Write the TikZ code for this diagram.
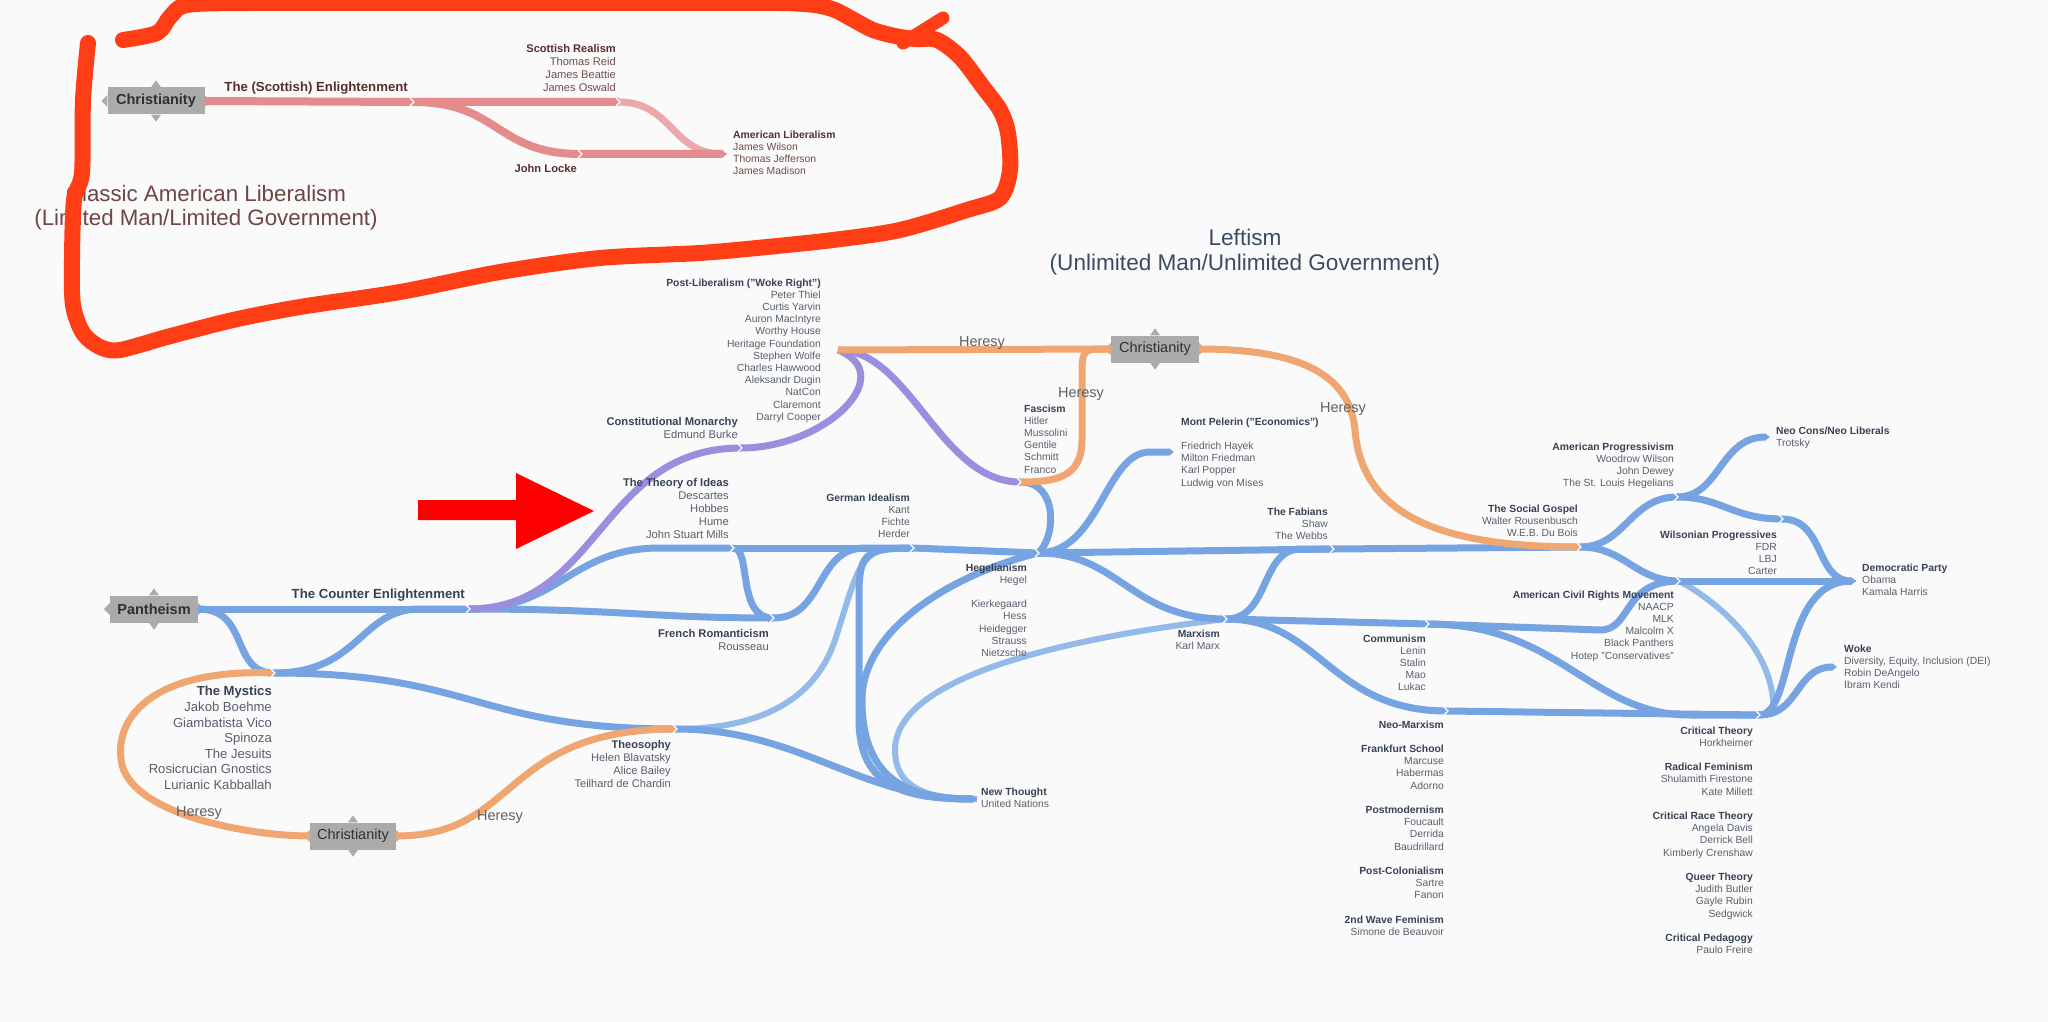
\documentclass[tikz,border=0pt]{standalone}
\usepackage{fontspec}
\setmainfont{Liberation Sans}
\usetikzlibrary{arrows.meta, positioning}

\definecolor{linkblue}{RGB}{118,163,226}
\definecolor{linkbluel}{RGB}{148,186,234}
\definecolor{linkpink}{RGB}{228,140,140}
\definecolor{linkpinkl}{RGB}{236,168,168}
\definecolor{linkorange}{RGB}{240,166,112}
\definecolor{linkpurple}{RGB}{154,142,222}
\definecolor{boxgray}{RGB}{171,171,171}
\definecolor{boxtext}{RGB}{48,48,48}
\definecolor{headc}{RGB}{55,66,84}
\definecolor{namec}{RGB}{88,95,108}
\definecolor{brownhead}{RGB}{90,45,45}
\definecolor{brownname}{RGB}{115,75,75}
\definecolor{titlebrown}{RGB}{110,70,70}
\definecolor{titleblue}{RGB}{60,75,100}
\definecolor{heresyc}{RGB}{96,96,96}
\definecolor{markred}{RGB}{255,62,22}
\definecolor{pagebg}{RGB}{250,250,250}

\newcommand{\hd}[1]{\textbf{\color{headc}#1}}
\newcommand{\hdbr}[1]{\textbf{\color{brownhead}#1}}

\begin{document}
\begin{tikzpicture}[x=1pt, y=-1pt,
  srcbox/.style = {fill=boxgray, text=boxtext, minimum height=27pt, inner sep=0pt,
    font=\fontsize{14.5}{16}\selectfont},
  flow/.style = {draw=linkblue, line width=7pt},
  flowl/.style = {draw=linkbluel, line width=6pt},
  pinkflow/.style = {draw=linkpink, line width=8pt},
  pinkflowl/.style = {draw=linkpinkl, line width=7pt},
  oflow/.style = {draw=linkorange, line width=7pt},
  pflow/.style = {draw=linkpurple, line width=7pt},
  bandend/.style = {-{Triangle[length=5pt, width=7pt]}},
  lblr/.style = {anchor=north east, align=right, inner sep=0pt, text=namec,
    font=\fontsize{10.35}{12.2}\selectfont},
  lbll/.style = {anchor=north west, align=left, inner sep=0pt, text=namec,
    font=\fontsize{10.35}{12.2}\selectfont},
  heresy/.style = {inner sep=0pt, text=heresyc, font=\fontsize{14.5}{16}\selectfont},
  bigtitle/.style = {anchor=north, align=center, inner sep=0pt}
]
\fill[pagebg] (0,0) rectangle (2048,1022);
\useasboundingbox (0,0) rectangle (2048,1022);

% titles
\node[bigtitle, text=titlebrown, font=\fontsize{22.3}{24}\selectfont] (tClassic) at (206,185)
  {Classic American Liberalism\\(Limited Man/Limited Government)};
\node[bigtitle, text=titleblue, font=\fontsize{22.6}{25}\selectfont] (tLeft) at (1245,229)
  {Leftism\\(Unlimited Man/Unlimited Government)};

% source boxes
\node[srcbox, minimum width=97pt, font=\bfseries\fontsize{14.5}{16}\selectfont] (chA) at (156,101) {Christianity};
\node[srcbox, minimum width=88pt, font=\bfseries\fontsize{14.5}{16}\selectfont] (pan) at (154,609) {Pantheism};
\node[srcbox, minimum width=86pt] (chB) at (353,836) {Christianity};
\node[srcbox, minimum width=88pt] (chC) at (1155,349) {Christianity};
\foreach \b in {chA,pan,chB,chC} {
  \fill[boxgray] (\b.north) ++(-5,0) -- ++(5,-7) -- ++(5,7) -- cycle;
  \fill[boxgray] (\b.south) ++(-5,0) -- ++(5,7) -- ++(5,-7) -- cycle;
  \fill[boxgray] (\b.west) ++(0,-6) -- ++(-6,6) -- ++(6,6) -- cycle;
  \fill[boxgray] (\b.east) ++(0,-6) -- ++(6,6) -- ++(-6,6) -- cycle;
}

% junctions
\coordinate (scotEnl) at (413,102);
\coordinate (scotReal) at (619,102);
\coordinate (locke) at (581,154);
\coordinate (amLib) at (727,154);
\coordinate (cEnl) at (469,609);
\coordinate (mystic) at (274,673);
\coordinate (theos) at (676,729);
\coordinate (ideas) at (733,548);
\coordinate (frRom) at (773,618);
\coordinate (gerId) at (913,548);
\coordinate (consMon) at (741,448);
\coordinate (postLib) at (838,350);
\coordinate (fasc) at (1020,482);
\coordinate (hegel) at (1038,553);
\coordinate (newTh) at (977,799);
\coordinate (montP) at (1174,452);
\coordinate (fab) at (1333,549);
\coordinate (marx) at (1226,619);
\coordinate (comm) at (1428,624);
\coordinate (neoM) at (1447,711);
\coordinate (socG) at (1580,547);
\coordinate (amProg) at (1677,497);
\coordinate (acrm) at (1679,581);
\coordinate (wilson) at (1782,519);
\coordinate (neoCon) at (1770,437);
\coordinate (demP) at (1856,581);
\coordinate (critT) at (1759,715);
\coordinate (woke) at (1837,667);

% blue flows
\draw[flowl] (theos) .. controls (760,729) and (815,700) .. (835,640) .. controls (855,580) and (858,548) .. (895,548) -- (gerId);
\draw[flowl] (marx) .. controls (1050,640) and (895,680) .. (895,750) .. controls (895,792) and (935,799) .. (newTh);
\draw[flowl] (acrm) .. controls (1715,600) and (1778,650) .. ([xshift=14pt]critT);
\draw[flow] (pan.east) -- (cEnl);
\draw[flow] (pan.east) .. controls (250,609) and (230,673) .. (mystic);
\draw[flow] (mystic) .. controls (360,673) and (360,609) .. (420,609) -- (cEnl);
\draw[flow] (mystic) .. controls (475,673) and (475,729) .. (theos);
\draw[flow] (cEnl) .. controls (560,609) and (570,548) .. (660,548) -- (ideas);
\draw[flow] (cEnl) .. controls (620,609) and (650,618) .. (frRom);
\draw[flow] (ideas) -- (gerId);
\draw[flow] (ideas) .. controls (752,548) and (736,618) .. (frRom);
\draw[flow] (frRom) .. controls (825,618) and (815,548) .. (865,548) -- (gerId);
\draw[flow] (gerId) -- (hegel);
\draw[flow, bandend] (theos) .. controls (800,729) and (860,799) .. (newTh);
\draw[flow, bandend] (gerId) .. controls (862,548) and (859,555) .. (859,600) -- (859,720) .. controls (859,790) and (910,799) .. (newTh);
\draw[flow, bandend] (hegel) .. controls (950,575) and (862,630) .. (862,700) .. controls (862,785) and (915,799) .. (newTh);
\draw[flow] (fasc) .. controls (1060,482) and (1055,540) .. (hegel);
\draw[flow, bandend] (hegel) .. controls (1100,553) and (1105,452) .. (1150,452) -- (montP);
\draw[flow] (hegel) -- (fab) -- (socG);
\draw[flow] (hegel) .. controls (1120,553) and (1130,619) .. (marx);
\draw[flow] (marx) .. controls (1270,619) and (1260,550) .. (1300,549) -- (fab);
\draw[flow] (marx) -- (comm);
\draw[flow] (marx) .. controls (1320,619) and (1330,711) .. (neoM);
\draw[flow] (comm) -- (1600,630) .. controls (1632,630) and (1622,581) .. (acrm);
\draw[flow] (comm) .. controls (1560,624) and (1590,715) .. (1690,715) -- (critT);
\draw[flow] (neoM) -- (critT);
\draw[flow] (socG) .. controls (1625,547) and (1630,497) .. (amProg);
\draw[flow] (socG) .. controls (1625,547) and (1635,581) .. (acrm);
\draw[flow, bandend] (amProg) .. controls (1720,497) and (1720,437) .. (neoCon);
\draw[flow] (amProg) .. controls (1722,497) and (1732,519) .. (wilson);
\draw[flow, bandend] (wilson) .. controls (1825,519) and (1815,581) .. (demP);
\draw[flow, bandend] (acrm) -- (demP);
\draw[flow, bandend] (critT) .. controls (1795,715) and (1780,581) .. (demP);
\draw[flow, bandend] (critT) .. controls (1800,715) and (1795,667) .. (woke);

% purple flows
\draw[pflow] (cEnl) .. controls (600,609) and (600,448) .. (consMon);
\draw[pflow] (consMon) .. controls (825,448) and (900,375) .. (postLib);
\draw[pflow] (postLib) .. controls (910,350) and (940,482) .. (fasc);

% orange flows
\draw[oflow] (chC.west) -- (postLib);
\draw[oflow] (chC.west) -- (1098,349) .. controls (1083,349) and (1082,355) .. (1082,372) -- (1082,440) .. controls (1082,478) and (1055,482) .. (fasc);
\draw[oflow] (chC.east) .. controls (1310,349) and (1350,380) .. (1355,430) .. controls (1362,520) and (1450,547) .. (socG);
\draw[oflow] (mystic) .. controls (150,668) and (112,720) .. (122,765) .. controls (135,815) and (250,836) .. (chB.west);
\draw[oflow] (chB.east) .. controls (520,836) and (500,729) .. (theos);

% pink flows
\draw[pinkflow] (chA.east) -- (scotEnl) -- (scotReal);
\draw[pinkflowl, bandend] (scotReal) .. controls (672,102) and (672,154) .. (amLib);
\draw[pinkflow, bandend] (scotEnl) .. controls (500,102) and (495,154) .. (locke) -- (amLib);

% white chevrons at the joins
\foreach \c in {scotEnl,scotReal,locke,cEnl,mystic,theos,ideas,frRom,gerId,consMon,fasc,hegel,fab,marx,comm,neoM,socG,amProg,acrm,wilson,critT}
  \draw[white, line width=1.2pt] (\c) ++(-3,-4) -- ++(4,4) -- ++(-4,4);

% labels, classic part
\node[lblr, text=brownhead, font=\bfseries\fontsize{13.2}{15}\selectfont] (lScotEnl) at (408,81.5) {The (Scottish) Enlightenment};
\node[lblr, text=brownname, font=\fontsize{11.1}{13}\selectfont] (lScotReal) at (616,44)
  {\hdbr{Scottish Realism}\\Thomas Reid\\James Beattie\\James Oswald};
\node[lblr, text=brownhead, font=\bfseries\fontsize{11.2}{13}\selectfont] (lLocke) at (577,164) {John Locke};
\node[lbll, text=brownname, font=\fontsize{10.4}{12.3}\selectfont] (lAmLib) at (733,130.3)
  {\hdbr{American Liberalism}\\James Wilson\\Thomas Jefferson\\James Madison};

% labels, left part
\node[lblr, text=headc, font=\bfseries\fontsize{13.2}{15}\selectfont] (lCounter) at (465,588.3) {The Counter Enlightenment};
\node[lblr, font=\fontsize{13.1}{15.5}\selectfont] (lMystic) at (272,686.3)
  {\hd{The Mystics}\\Jakob Boehme\\Giambatista Vico\\Spinoza\\The Jesuits\\Rosicrucian Gnostics\\Lurianic Kabballah};
\node[lblr, font=\fontsize{11.1}{13}\selectfont] (lTheos) at (671,740)
  {\hd{Theosophy}\\Helen Blavatsky\\Alice Bailey\\Teilhard de Chardin};
\node[lblr, font=\fontsize{11.2}{13}\selectfont] (lFrRom) at (769,628.7) {\hd{French Romanticism}\\Rousseau};
\node[lblr, font=\fontsize{11.2}{13}\selectfont] (lIdeas) at (729,478)
  {\hd{The Theory of Ideas}\\Descartes\\Hobbes\\Hume\\John Stuart Mills};
\node[lblr, font=\fontsize{11.2}{13}\selectfont] (lConsMon) at (738,417) {\hd{Constitutional Monarchy}\\Edmund Burke};
\node[lblr] (lPostLib) at (821,278.3)
  {\hd{Post-Liberalism ("Woke Right")}\\Peter Thiel\\Curtis Yarvin\\Auron MacIntyre\\Worthy House\\Heritage Foundation\\Stephen Wolfe\\Charles Hawwood\\Aleksandr Dugin\\NatCon\\Claremont\\Darryl Cooper};
\node[lblr] (lGerId) at (910,493.3) {\hd{German Idealism}\\Kant\\Fichte\\Herder};

% labels, middle part
\node[lbll] (lFasc) at (1024,404.3) {\hd{Fascism}\\Hitler\\Mussolini\\Gentile\\Schmitt\\Franco};
\node[lblr] (lHegel) at (1027,563.3)
  {\hd{Hegelianism}\\Hegel\\[12.2pt]Kierkegaard\\Hess\\Heidegger\\Strauss\\Nietzsche};
\node[lbll] (lMontP) at (1181,417.3)
  {\hd{Mont Pelerin ("Economics")}\\[12.2pt]Friedrich Hayek\\Milton Friedman\\Karl Popper\\Ludwig von Mises};
\node[lblr] (lFab) at (1328,507.3) {\hd{The Fabians}\\Shaw\\The Webbs};
\node[lblr] (lMarx) at (1220,629.3) {\hd{Marxism}\\Karl Marx};
\node[lblr] (lComm) at (1426,634.3) {\hd{Communism}\\Lenin\\Stalin\\Mao\\Lukac};
\node[lblr] (lNeoM) at (1444,720.3)
  {\hd{Neo-Marxism}\\[12.2pt]\hd{Frankfurt School}\\Marcuse\\Habermas\\Adorno\\[12.2pt]\hd{Postmodernism}\\Foucault\\Derrida\\Baudrillard\\[12.2pt]\hd{Post-Colonialism}\\Sartre\\Fanon\\[12.2pt]\hd{2nd Wave Feminism}\\Simone de Beauvoir};
\node[lbll] (lNewTh) at (981,787.3) {\hd{New Thought}\\United Nations};

% labels, right part
\node[lblr] (lSocG) at (1578,504.3) {\hd{The Social Gospel}\\Walter Rousenbusch\\W.E.B. Du Bois};
\node[lblr] (lAmProg) at (1674,442.3)
  {\hd{American Progressivism}\\Woodrow Wilson\\John Dewey\\The St. Louis Hegelians};
\node[lblr] (lWilson) at (1777,530.3) {\hd{Wilsonian Progressives}\\FDR\\LBJ\\Carter};
\node[lblr] (lAcrm) at (1674,590.3)
  {\hd{American Civil Rights Movement}\\NAACP\\MLK\\Malcolm X\\Black Panthers\\Hotep "Conservatives"};
\node[lbll] (lNeoCon) at (1776,426.3) {\hd{Neo Cons/Neo Liberals}\\Trotsky};
\node[lbll] (lDemP) at (1862,563.3) {\hd{Democratic Party}\\Obama\\Kamala Harris};
\node[lbll] (lWoke) at (1844,644.3)
  {\hd{Woke}\\Diversity, Equity, Inclusion (DEI)\\Robin DeAngelo\\Ibram Kendi};
\node[lblr] (lCritT) at (1753,726.3)
  {\hd{Critical Theory}\\Horkheimer\\[12.2pt]\hd{Radical Feminism}\\Shulamith Firestone\\Kate Millett\\[12.2pt]\hd{Critical Race Theory}\\Angela Davis\\Derrick Bell\\Kimberly Crenshaw\\[12.2pt]\hd{Queer Theory}\\Judith Butler\\Gayle Rubin\\Sedgwick\\[12.2pt]\hd{Critical Pedagogy}\\Paulo Freire};

% heresy labels
\node[heresy] (hMystic) at (199,813) {Heresy};
\node[heresy] (hTheos) at (500,817) {Heresy};
\node[heresy] (hPost) at (982,343) {Heresy};
\node[heresy] (hFasc) at (1081,394) {Heresy};
\node[heresy] (hSoc) at (1343,409) {Heresy};

% hand drawn marks
\draw[markred, line width=16pt, line cap=round, line join=round] plot[smooth, tension=0.5] coordinates {
  (88,43) (83,100) (82,173) (74,200) (72,260) (73,305) (83,333) (100,347) (120,350) (167,337)
  (233,320) (300,307) (400,292) (500,272) (600,258) (700,253) (767,247) (833,240) (900,230)
  (967,210) (1000,198) (1010,170) (1008,133) (1000,110) (983,87) (960,57) (937,40) (915,39)
  (895,36) (873,30) (852,19) (835,10) (815,5) (780,3) (700,3) (600,3) (400,3) (250,3) (187,5)
  (170,17) (157,33) (123,40)};
\draw[markred, line width=13pt, line cap=round] (943,18) -- (903,43);
\fill[red] (418,500) -- (516,500) -- (516,473) -- (594,511) -- (516,549) -- (516,520) -- (418,520) -- cycle;
\end{tikzpicture}
\end{document}
